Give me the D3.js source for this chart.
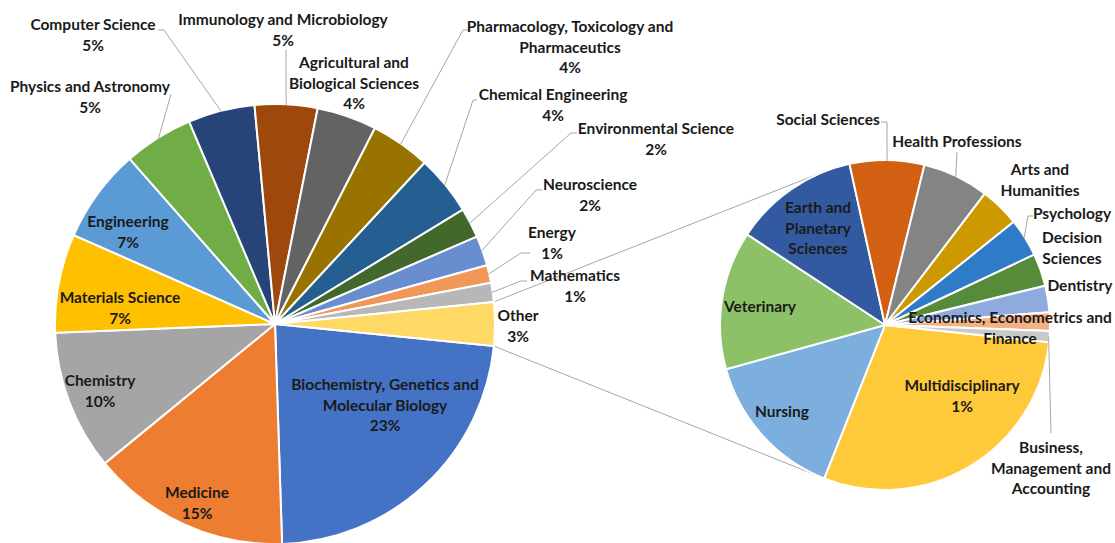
<!DOCTYPE html>
<html><head><meta charset="utf-8">
<script src="https://cdn.jsdelivr.net/npm/d3@7"></script>
<style>
body{margin:0;background:#fff}
svg{display:block}
text{font-family:Lato,'Open Sans',sans-serif;font-weight:700;font-size:15.5px;fill:#1a1a1a}
</style>
</head><body><svg id="chart" width="1115" height="543"></svg>
<script>
// ---------- DATA ----------
const mainCategories = [
  "Biochemistry, Genetics and Molecular Biology","Medicine","Chemistry","Materials Science",
  "Engineering","Physics and Astronomy","Computer Science","Immunology and Microbiology",
  "Agricultural and Biological Sciences","Pharmacology, Toxicology and Pharmaceutics",
  "Chemical Engineering","Environmental Science","Neuroscience","Energy","Mathematics"
];
const mainValues = [22.9,14.6,10.3,7.25,6.9,5.1,4.9,4.6,4.4,4.4,4.4,2.2,2.2,1.3,1.4];
const otherCategory = "Other";

const secondCategories = [
  "Multidisciplinary","Nursing","Veterinary","Earth and Planetary Sciences","Social Sciences",
  "Health Professions","Arts and Humanities","Psychology","Decision Sciences","Dentistry",
  "Economics, Econometrics and Finance","Business, Management and Accounting"
];
const secondValues = [0.94,0.47,0.435,0.394,0.234,0.208,0.125,0.12,0.102,0.083,0.058,0.035];

// ---------- STYLE ----------
const mainColors = ["#4472C4","#ED7D31","#A5A5A5","#FFC000","#5B9BD5","#70AD47","#264478","#9E480E",
  "#636363","#997300","#255E91","#43682B","#698ED0","#F1975A","#B7B7B7"];
const otherColor = "#FFD966";
const secondColors = ["#FFCA3A","#7CAFDD","#8CC168","#335AA1","#D26012","#848484","#CC9A00","#2E7BC8",
  "#568B3A","#8FAADC","#F4B183","#C9C9C9"];
const leaderColor = "#a6a6a6";

// ---------- LAYOUT ----------
const W = 1115, H = 543;
const M = {cx:275, cy:324, r:220};
const S = {cx:885, cy:325, r:165, startDeg:96};
const lineH = 20.5;

const mainLabelLayout = {
  "Biochemistry, Genetics and Molecular Biology": {lines:["Biochemistry, Genetics and","Molecular Biology"], x:385, y:385},
  "Medicine": {x:197, y:493},
  "Chemistry": {x:100, y:381},
  "Materials Science": {x:120, y:298},
  "Engineering": {x:128, y:222},
  "Physics and Astronomy": {x:90, y:87, leader:[[171,94]]},
  "Computer Science": {x:93, y:25, leader:[[158,30],[164,30]]},
  "Immunology and Microbiology": {x:283, y:20, leader:[[286,50]]},
  "Agricultural and Biological Sciences": {lines:["Agricultural and","Biological Sciences"], x:354, y:63},
  "Pharmacology, Toxicology and Pharmaceutics": {lines:["Pharmacology, Toxicology and","Pharmaceutics"], x:570, y:27, leader:[[468,30],[463,30]]},
  "Chemical Engineering": {x:553, y:95, leader:[[477,100],[473,100]]},
  "Environmental Science": {x:656, y:129, leader:[[577,133],[571,133]]},
  "Neuroscience": {x:590, y:185, leader:[[542,190],[536,190]]},
  "Energy": {x:552, y:233, leader:[[530,253],[521,253]]},
  "Mathematics": {x:575, y:276, leader:[[527,281],[521,281]]},
  "Other": {x:518, y:316}
};
const secondLabelLayout = {
  "Multidisciplinary": {x:962, y:386, pct:true},
  "Nursing": {x:782, y:412},
  "Veterinary": {x:760, y:307},
  "Earth and Planetary Sciences": {lines:["Earth and","Planetary","Sciences"], x:818, y:208},
  "Social Sciences": {x:828, y:120, leader:[[881,122],[887,122]]},
  "Health Professions": {x:957, y:142, leader:[[957,152]]},
  "Arts and Humanities": {lines:["Arts and","Humanities"], x:1040, y:170},
  "Psychology": {x:1072, y:214, leader:[[1033,216],[1028,216]]},
  "Decision Sciences": {lines:["Decision","Sciences"], x:1072, y:238},
  "Dentistry": {x:1080, y:286},
  "Economics, Econometrics and Finance": {lines:["Economics, Econometrics and","Finance"], x:1010, y:318},
  "Business, Management and Accounting": {lines:["Business,","Management and","Accounting"], x:1051, y:448, leader:[[1051,433]]}
};

// ---------- BUILD ----------
const svg = d3.select("#chart");
svg.append("rect").attr("width",W).attr("height",H).attr("fill","#fff");

const otherValue = d3.sum(secondValues);
const total = d3.sum(mainValues) + otherValue;
const pctFmt = d3.format(".0%");

const mainData = mainCategories.map((c,i)=>({name:c, value:mainValues[i], color:mainColors[i]}))
  .concat([{name:otherCategory, value:otherValue, color:otherColor}]);
const secData = secondCategories.map((c,i)=>({name:c, value:secondValues[i], color:secondColors[i]}));

const half = otherValue/total*Math.PI;
const mainStart = Math.PI/2 + half;
const pieMain = d3.pie().sort(null).value(d=>d.value).startAngle(mainStart).endAngle(mainStart+2*Math.PI);
const secStart = S.startDeg*Math.PI/180;
const pieSec = d3.pie().sort(null).value(d=>d.value).startAngle(secStart).endAngle(secStart+2*Math.PI);

const arcsMain = pieMain(mainData);
const arcsSec = pieSec(secData);

const pt = (c, r, a) => [c.cx + r*Math.sin(a), c.cy - r*Math.cos(a)];

// connector lines (tangent to the secondary pie)
function tangent(P, C, upper){
  const dx = P[0]-C.cx, dy = P[1]-C.cy, d = Math.hypot(dx,dy);
  const phi = Math.atan2(dy,dx), al = Math.acos(C.r/d);
  const t1 = [C.cx + C.r*Math.cos(phi+al), C.cy + C.r*Math.sin(phi+al)];
  const t2 = [C.cx + C.r*Math.cos(phi-al), C.cy + C.r*Math.sin(phi-al)];
  return upper ? (t1[1] < t2[1] ? t1 : t2) : (t1[1] > t2[1] ? t1 : t2);
}
const P1 = pt(M, M.r, Math.PI/2 - half), P2 = pt(M, M.r, Math.PI/2 + half);
[[P1, tangent(P1,S,true)],[P2, tangent(P2,S,false)]].forEach(([a,b])=>{
  svg.append("line").attr("x1",a[0]).attr("y1",a[1]).attr("x2",b[0]).attr("y2",b[1])
    .attr("stroke",leaderColor).attr("stroke-width",1);
});

// slices
const arcM = d3.arc().innerRadius(0).outerRadius(M.r);
const arcS = d3.arc().innerRadius(0).outerRadius(S.r);
svg.append("g").attr("transform",`translate(${M.cx},${M.cy})`)
  .selectAll("path").data(arcsMain).join("path")
  .attr("d",arcM).attr("fill",d=>d.data.color).attr("stroke","#fff").attr("stroke-width",2).attr("stroke-linejoin","round");
svg.append("g").attr("transform",`translate(${S.cx},${S.cy})`)
  .selectAll("path").data(arcsSec).join("path")
  .attr("d",arcS).attr("fill",d=>d.data.color).attr("stroke","#fff").attr("stroke-width",2).attr("stroke-linejoin","round");

// labels
function drawLabels(arcs, layout, C, alwaysPct){
  const g = svg.append("g");
  arcs.forEach(a=>{
    const L = layout[a.data.name]; if(!L) return;
    const lines = (L.lines || [a.data.name]).slice();
    if(alwaysPct || L.pct) lines.push(pctFmt(a.data.value/total));
    if(L.leader){
      const mid = (a.startAngle+a.endAngle)/2;
      const pts = L.leader.concat([pt(C, C.r-1, mid)]);
      g.append("path").attr("d", d3.line()(pts)).attr("fill","none")
        .attr("stroke",leaderColor).attr("stroke-width",1);
    }
    const t = g.append("text").attr("text-anchor","middle");
    lines.forEach((s,i)=>{
      t.append("tspan").attr("x",L.x).attr("y",L.y + i*lineH).attr("dy","0.35em").text(s);
    });
  });
}
drawLabels(arcsMain, mainLabelLayout, M, true);
drawLabels(arcsSec, secondLabelLayout, S, false);
</script>
</body></html>
